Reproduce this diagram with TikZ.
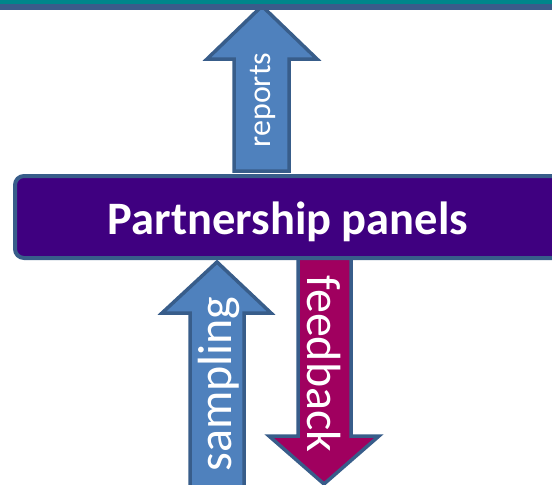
\documentclass[tikz,border=0pt]{standalone}
\usepackage{fontspec}
\setmainfont{Carlito}
\usetikzlibrary{positioning}

\definecolor{bandteal}{HTML}{00868B}
\definecolor{bandblue}{HTML}{3B5B8A}
\definecolor{arrowfill}{HTML}{4F81BD}
\definecolor{arrowedge}{HTML}{385D8A}
\definecolor{panelfill}{HTML}{3F0080}
\definecolor{feedfill}{HTML}{A0005F}

\begin{document}
\begin{tikzpicture}[
  x=1pt, y=-1pt,
  bigarrow/.style={draw=arrowedge, line width=3.5pt, fill=arrowfill, line join=miter},
  armlabel/.style={text=white, inner sep=0pt},
  panel/.style={draw=arrowedge, line width=4pt, fill=panelfill, rounded corners=9pt}
]
\useasboundingbox (0,0) rectangle (552,485);
\clip (0,0) rectangle (552,485);

% upward arrow to the band
\draw[bigarrow] (234,171) -- (234,59) -- (207,59) -- (262,6) -- (317,59) -- (289,59) -- (289,171) -- cycle;
\node[armlabel, rotate=90, font=\fontsize{32}{32}\selectfont] (reports) at (263,100) {reports};

% top band
\fill[bandteal] (0,0) rectangle (552,3.5);
\fill[bandblue] (0,3.5) rectangle (552,9.5);

% arrows below the panel
\draw[bigarrow, fill=feedfill] (298,250) -- (298,436) -- (269,436) -- (324,484) -- (379,436) -- (351,436) -- (351,250) -- cycle;
\node[armlabel, rotate=-90, font=\fontsize{48}{48}\selectfont] (feedback) at (324,364) {feedback};

\draw[bigarrow] (190,500) -- (190,313) -- (162,313) -- (217,262) -- (271,313) -- (244,313) -- (244,500) -- cycle;
\node[armlabel, rotate=90, font=\fontsize{48}{48}\selectfont] (sampling) at (219,384) {sampling};

% the panel
\draw[panel] (15,176) rectangle (580,258);
\node[text=white, anchor=base, font=\bfseries\fontsize{46.5}{46.5}\selectfont] (panels) at (288,234) {Partnership panels};
\end{tikzpicture}
\end{document}
